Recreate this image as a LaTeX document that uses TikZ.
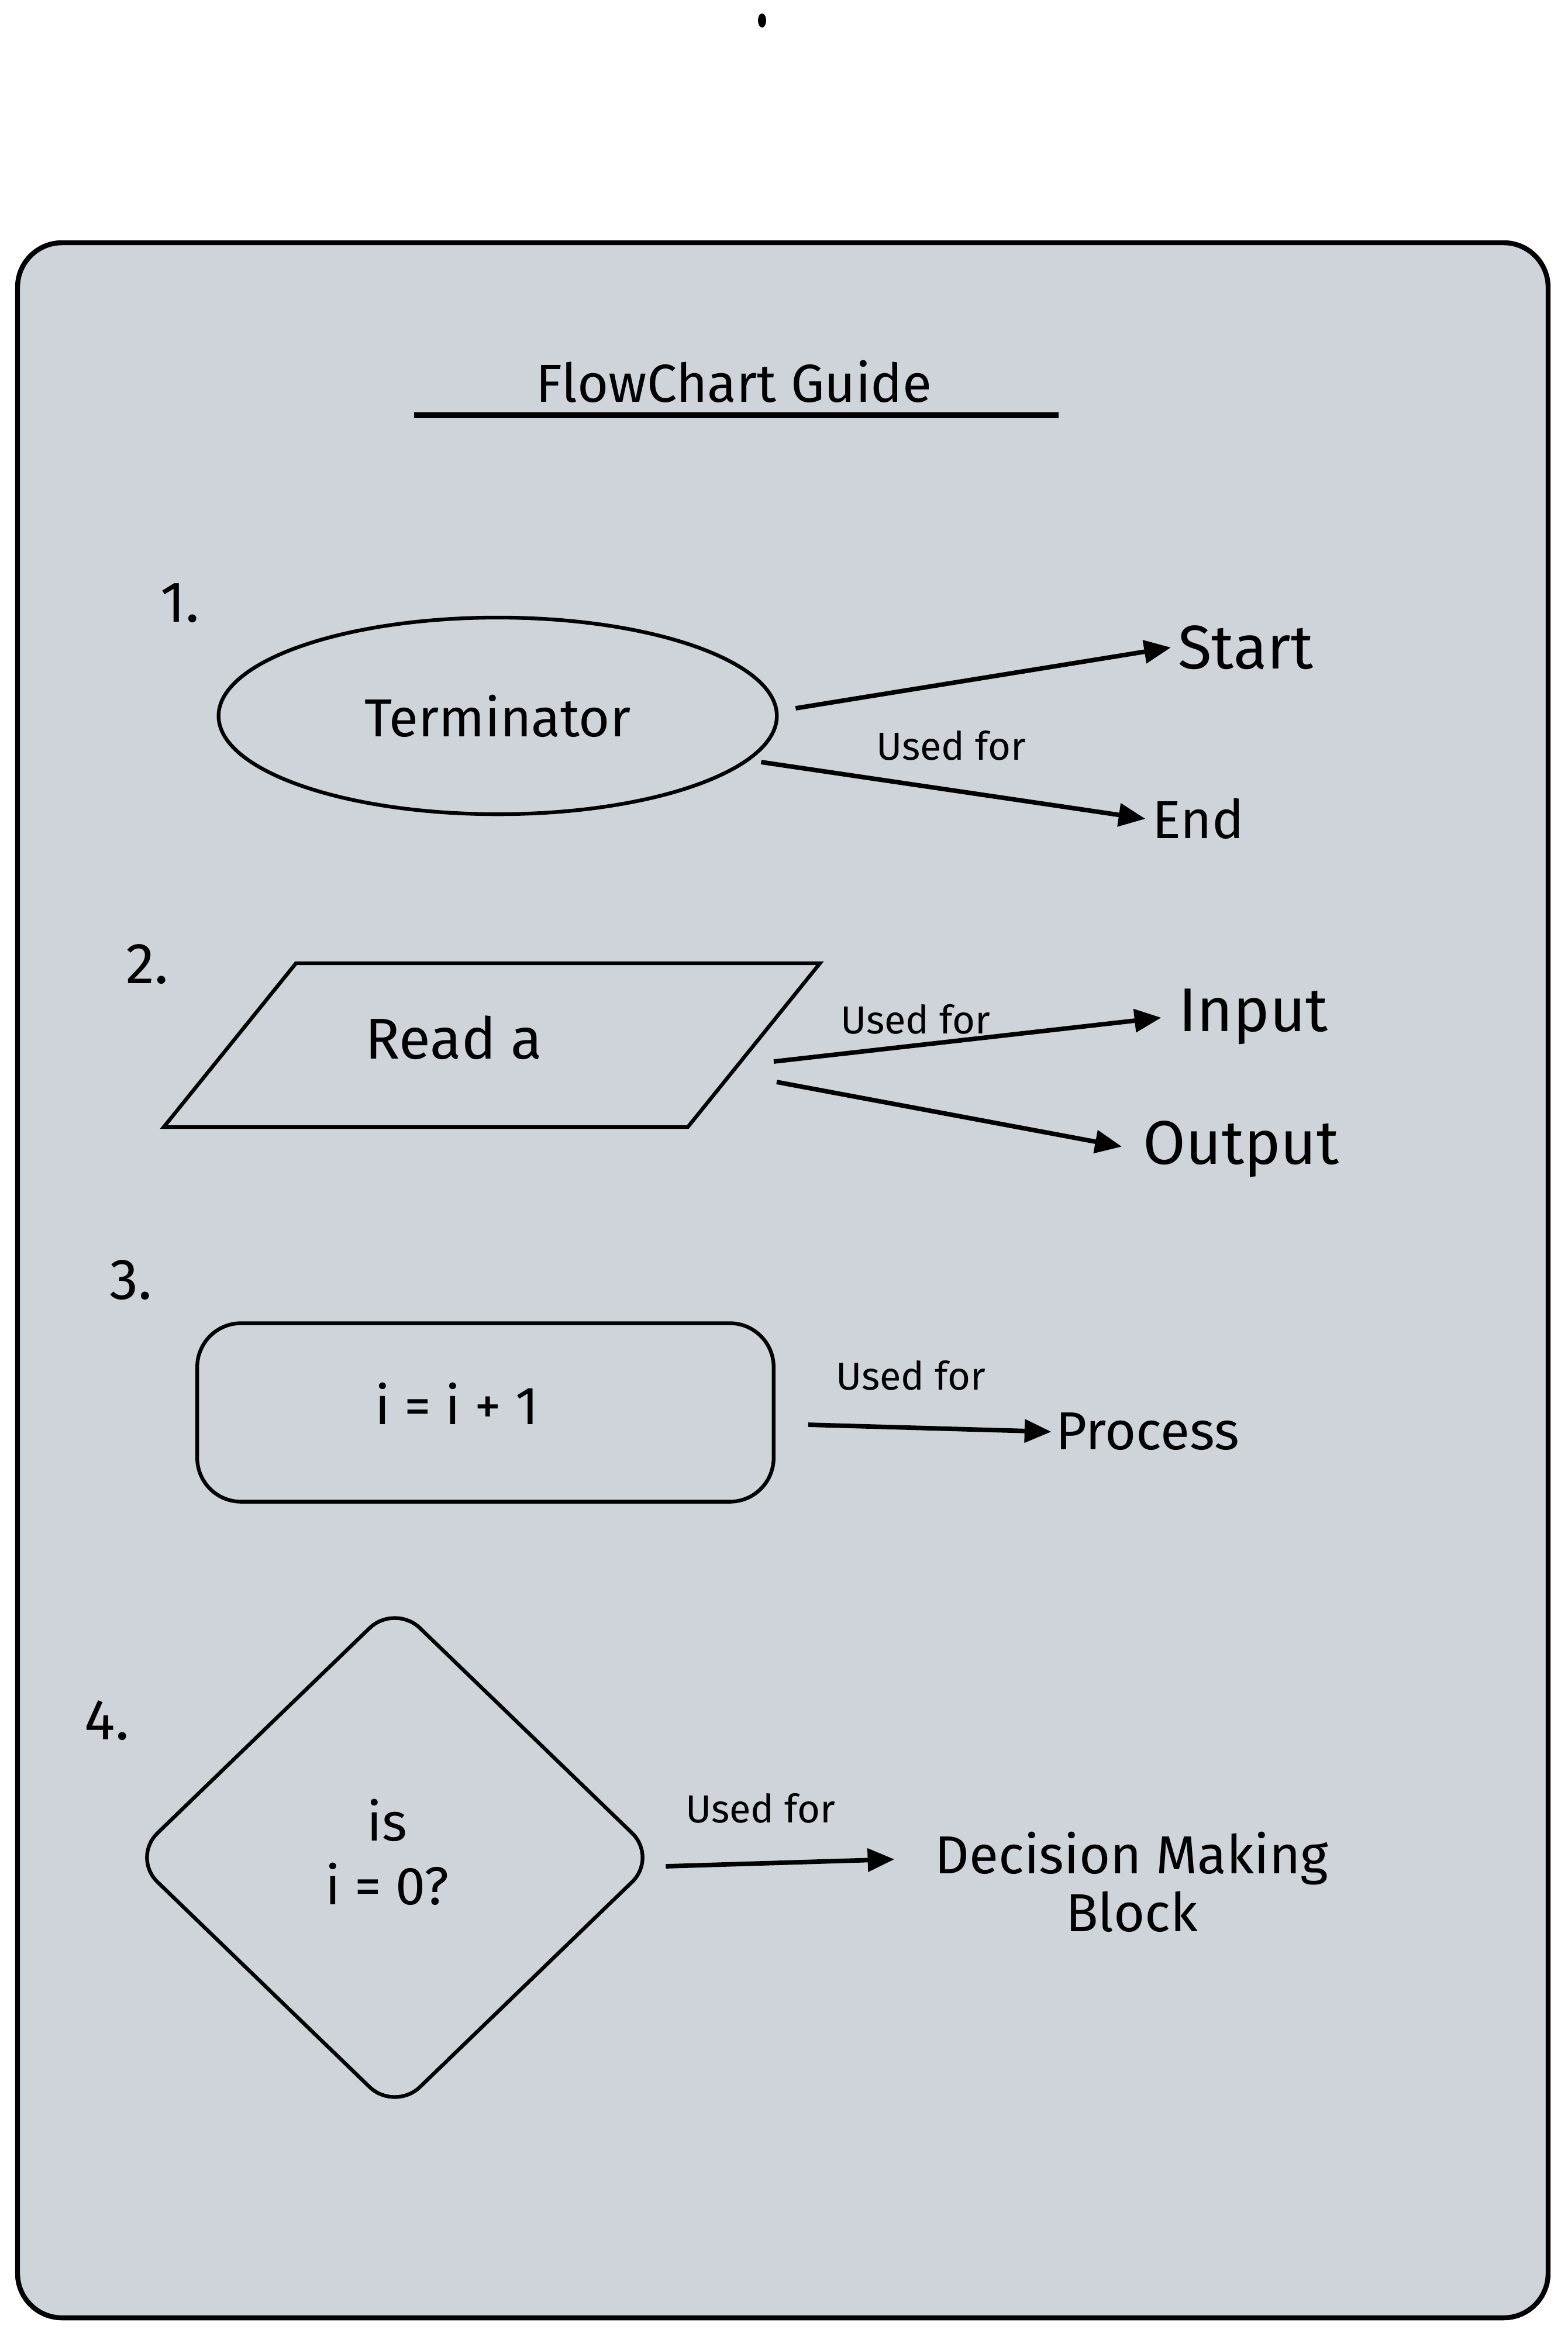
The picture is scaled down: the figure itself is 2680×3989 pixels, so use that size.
\documentclass[tikz,border=0pt]{standalone}
\usepackage{fontspec}
\setmainfont{Fira Sans}
\usepackage{tikz}
\usetikzlibrary{positioning}
\usetikzlibrary{shapes.geometric,arrows.meta}
\definecolor{boardgray}{HTML}{CED4DA}

\begin{document}
\begin{tikzpicture}[x=0.01cm,y=-0.01cm,>={Triangle[length=13pt,width=11pt]},
  every node/.style={font=\fontsize{26}{31}\selectfont},
  shp/.style={draw,line width=1.8pt},
  arr/.style={->,line width=2.2pt},
  usedfor/.style={font=\fontsize{19}{23}\selectfont},
  bigtxt/.style={font=\fontsize{30}{36}\selectfont},
  num/.style={font=\fontsize{28}{34}\selectfont}]
  \useasboundingbox (0,0) rectangle (2680,3989);
  % stray dot above the board
  \fill (1303,35) ellipse (7 and 12);
  % the board and its title
  \draw[line width=2.4pt,fill=boardgray,rounded corners=0.76cm] (30,415) rectangle (2647,3963);
  \node (title) at (1255,652) {FlowChart Guide};
  \draw[line width=2.8pt] (708,710) -- (1810,710);
  % 1. terminator
  \node[num] (n1) at (308,1031) {1.};
  \node[shp,ellipse,minimum width=9.54cm,minimum height=3.36cm] (term) at (851,1224) {Terminator};
  \node[bigtxt] (start) at (2130,1107) {Start};
  \node (end) at (2049,1400) {End};
  \node[usedfor] (uf1) at (1626,1275) {Used for};
  \draw[arr] ([shift={(29,-13)}]term.east) -- (start.west);
  \draw[arr] ([shift={(-30,79)}]term.east) -- (end.west);
  % 2. input / output
  \node[num] (n2) at (252,1649) {2.};
  \draw[line width=1.8pt] (506,1647) -- (1402,1647) -- (1176,1927) -- (280,1927) -- cycle;
  \coordinate (io) at (1289,1787);
  \node[font=\fontsize{28}{34}\selectfont] (read) at (776,1774) {Read a};
  \node[bigtxt] (input) at (2143,1738) {Input};
  \node[bigtxt] (output) at (2122,1965) {Output};
  \node[usedfor] (uf2) at (1565,1743) {Used for};
  \draw[arr,shorten >=5pt] ([shift={(34,28)}]io) -- (input.west);
  \draw[arr,shorten >=7pt] ([shift={(39,63)}]io) -- (output.west);
  % 3. process
  \node[num] (n3) at (224,2189) {3.};
  \node[shp,rounded corners=0.75cm,minimum width=9.85cm,minimum height=3.05cm] (proc) at (830,2415) {};
  \node (incr) at (781,2400) {i = i + 1};
  \node[inner sep=2pt] (process) at (1962,2448) {Process};
  \node[usedfor] (uf3) at (1557,2352) {Used for};
  \draw[arr] ([shift={(56,21)}]proc.east) -- (process.west);
  % 4. decision
  \node[num] (n4) at (183,2942) {4.};
  \node[shp,diamond,rounded corners=0.6cm,minimum width=9.0cm,minimum height=8.7cm] (dec) at (675,3176) {};
  \node[align=center] (isq) at (662,3167) {is\\i = 0?};
  \node[align=center,font=\fontsize{26}{28}\selectfont] (decb) at (1935,3218) {Decision Making\\Block};
  \node[usedfor] (uf4) at (1300,3092) {Used for};
  \draw[arr] ([shift={(10,15)}]dec.east) -- ([shift={(-57,-39)}]decb.west);
\end{tikzpicture}
\end{document}
